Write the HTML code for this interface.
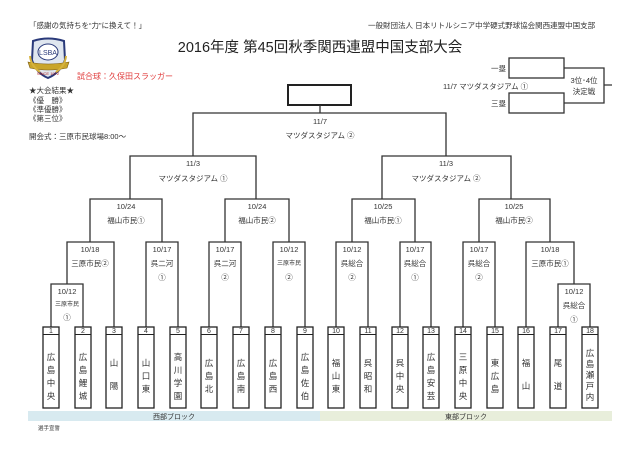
<!DOCTYPE html>
<html><head><meta charset="utf-8"><style>
body{margin:0;background:#fff}
svg{display:block}
text{font-family:"Liberation Sans","Noto Sans CJK JP",sans-serif}
</style></head><body>
<svg width="640" height="452" viewBox="0 0 640 452" xmlns="http://www.w3.org/2000/svg" fill="#333">
<g font-size="7.5">
<text x="29" y="28">「感謝の気持ちを“力”に換えて！」</text>
<text x="368" y="28">一般財団法人 日本リトルシニア中学硬式野球協会関西連盟中国支部</text>
</g>
<text x="320" y="52" font-size="14.5" text-anchor="middle" fill="#222">2016年度  第45回秋季関西連盟中国支部大会</text>
<!-- logo -->
<g>
<path d="M33 41 Q48 36 64 41 L65 60 Q60 73 48 78 Q36 73 32 60 Z" fill="#dfe6ef" stroke="#2a3a7a" stroke-width="2"/>
<ellipse cx="48" cy="52" rx="10" ry="8" fill="#fff" stroke="#2a3a7a"/>
<text x="48" y="55" font-size="7" text-anchor="middle" fill="#2a3a7a">LSBA</text>
<path d="M28 62 Q48 66 69 62 L67 68 Q48 72 30 68 Z" fill="#c9a52a" stroke="#7a5a10" stroke-width=".6"/>
<path d="M30 56 Q31 66 40 72 M66 56 Q65 66 56 72" stroke="#d6b23c" stroke-width="2" fill="none"/>
<text x="48" y="75" font-size="4" text-anchor="middle" fill="#b02020">SINCE 1972</text>
</g>
<text x="77" y="79" font-size="8" fill="#e03c3c">試合球：久保田スラッガー</text>
<g font-size="7.5">
<text x="29" y="93">★大会結果★</text>
<text x="29" y="103">《優　勝》</text>
<text x="29" y="112">《準優勝》</text>
<text x="29" y="121">《第三位》</text>
<text x="29" y="139">開会式：三原市民球場8:00～</text>
</g>
<!-- final box -->
<rect x="288" y="85" width="63" height="20" fill="#fff" stroke="#222" stroke-width="2"/>
<!-- third place -->
<g stroke="#333" stroke-width="1.3" fill="none">
<rect x="509" y="58" width="55" height="20"/>
<rect x="509" y="93" width="55" height="20"/>
<path d="M564 68 H604 V103 H564 M604 85 H612"/>
</g>
<g font-size="7.5">
<text x="506" y="71" text-anchor="end">一塁</text>
<text x="506" y="106" text-anchor="end">三塁</text>
<text x="443" y="89">11/7  マツダスタジアム  ①</text>
<text x="584" y="83" text-anchor="middle">3位･4位</text>
<text x="584" y="94" text-anchor="middle">決定戦</text>
</g>
<!-- bracket lines -->
<g stroke="#333" stroke-width="1.3" fill="none">
<path d="M320 105 V113 M193 156 V113 H446 V156"/>
<path d="M130 199 V156 H256 V199 M382 199 V156 H511 V199"/>
<path d="M90 242 V199 H162 V242 M225 242 V199 H289 V242 M352 242 V199 H415 V242 M479 242 V199 H550 V242"/>
<path d="M67 284 V242 H114 V327 M146 327 V242 H178 V327 M209 327 V242 H241 V327 M273 327 V242 H305 V327"/>
<path d="M51 327 V284 H83 V327"/>
<path d="M336 327 V242 H368 V327 M400 327 V242 H431 V327 M463 327 V242 H495 V327 M526 327 V242 H574 V284"/>
<path d="M558 327 V284 H590 V327"/>
</g>
<g font-size="7.5" text-anchor="middle">
<text x="320" y="124">11/7</text><text x="320" y="138">マツダスタジアム  ②</text>
<text x="193" y="166">11/3</text><text x="193" y="181">マツダスタジアム  ①</text>
<text x="446" y="166">11/3</text><text x="446" y="181">マツダスタジアム  ②</text>
<text x="126" y="209">10/24</text><text x="126" y="223">福山市民①</text>
<text x="257" y="209">10/24</text><text x="257" y="223">福山市民②</text>
<text x="383" y="209">10/25</text><text x="383" y="223">福山市民①</text>
<text x="514" y="209">10/25</text><text x="514" y="223">福山市民②</text>
<text x="90" y="252">10/18</text><text x="90" y="266">三原市民②</text>
<text x="162" y="252">10/17</text><text x="162" y="266">呉二河</text><text x="162" y="280">①</text>
<text x="225" y="252">10/17</text><text x="225" y="266">呉二河</text><text x="225" y="280">②</text>
<text x="289" y="252">10/12</text><text x="289" y="265" font-size="6">三原市民</text><text x="289" y="280">②</text>
<text x="67" y="294">10/12</text><text x="67" y="306" font-size="6">三原市民</text><text x="67" y="320">①</text>
<text x="352" y="252">10/12</text><text x="352" y="266">呉総合</text><text x="352" y="280">②</text>
<text x="415" y="252">10/17</text><text x="415" y="266">呉総合</text><text x="415" y="280">①</text>
<text x="479" y="252">10/17</text><text x="479" y="266">呉総合</text><text x="479" y="280">②</text>
<text x="550" y="252">10/18</text><text x="550" y="266">三原市民①</text>
<text x="574" y="294">10/12</text><text x="574" y="308">呉総合</text><text x="574" y="322">①</text>
</g>
<!-- team boxes -->
<g stroke="#222" stroke-width="1.3" fill="#fff">
<rect x="43" y="327" width="16" height="81"/><rect x="75" y="327" width="16" height="81"/><rect x="106" y="327" width="16" height="81"/>
<rect x="138" y="327" width="16" height="81"/><rect x="170" y="327" width="16" height="81"/><rect x="201" y="327" width="16" height="81"/>
<rect x="233" y="327" width="16" height="81"/><rect x="265" y="327" width="16" height="81"/><rect x="297" y="327" width="16" height="81"/>
<rect x="328" y="327" width="16" height="81"/><rect x="360" y="327" width="16" height="81"/><rect x="392" y="327" width="16" height="81"/>
<rect x="423" y="327" width="16" height="81"/><rect x="455" y="327" width="16" height="81"/><rect x="487" y="327" width="16" height="81"/>
<rect x="518" y="327" width="16" height="81"/><rect x="550" y="327" width="16" height="81"/><rect x="582" y="327" width="16" height="81"/>
</g>
<g stroke="#222" stroke-width="1">
<path d="M43 334.5H59M75 334.5H91M106 334.5H122M138 334.5H154M170 334.5H186M201 334.5H217M233 334.5H249M265 334.5H281M297 334.5H313M328 334.5H344M360 334.5H376M392 334.5H408M423 334.5H439M455 334.5H471M487 334.5H503M518 334.5H534M550 334.5H566M582 334.5H598"/>
</g>
<g font-size="7" text-anchor="middle">
<text x="51" y="333">1</text><text x="83" y="333">2</text><text x="114" y="333">3</text><text x="146" y="333">4</text><text x="178" y="333">5</text><text x="209" y="333">6</text><text x="241" y="333">7</text><text x="273" y="333">8</text><text x="305" y="333">9</text>
<text x="336" y="333">10</text><text x="368" y="333">11</text><text x="400" y="333">12</text><text x="431" y="333">13</text><text x="463" y="333">14</text><text x="495" y="333">15</text><text x="526" y="333">16</text><text x="558" y="333">17</text><text x="590" y="333">18</text>
</g>
<g font-size="8.5" text-anchor="middle">
<text x="51" y="360">広</text><text x="51" y="373">島</text><text x="51" y="386">中</text><text x="51" y="399">央</text>
<text x="83" y="360">広</text><text x="83" y="373">島</text><text x="83" y="386">鯉</text><text x="83" y="399">城</text>
<text x="114" y="366">山</text><text x="114" y="389">陽</text>
<text x="146" y="366">山</text><text x="146" y="379">口</text><text x="146" y="392">東</text>
<text x="178" y="360">高</text><text x="178" y="373">川</text><text x="178" y="386">学</text><text x="178" y="399">園</text>
<text x="209" y="366">広</text><text x="209" y="379">島</text><text x="209" y="392">北</text>
<text x="241" y="366">広</text><text x="241" y="379">島</text><text x="241" y="392">南</text>
<text x="273" y="366">広</text><text x="273" y="379">島</text><text x="273" y="392">西</text>
<text x="305" y="360">広</text><text x="305" y="373">島</text><text x="305" y="386">佐</text><text x="305" y="399">伯</text>
<text x="336" y="366">福</text><text x="336" y="379">山</text><text x="336" y="392">東</text>
<text x="368" y="366">呉</text><text x="368" y="379">昭</text><text x="368" y="392">和</text>
<text x="400" y="366">呉</text><text x="400" y="379">中</text><text x="400" y="392">央</text>
<text x="431" y="360">広</text><text x="431" y="373">島</text><text x="431" y="386">安</text><text x="431" y="399">芸</text>
<text x="463" y="360">三</text><text x="463" y="373">原</text><text x="463" y="386">中</text><text x="463" y="399">央</text>
<text x="495" y="366">東</text><text x="495" y="379">広</text><text x="495" y="392">島</text>
<text x="526" y="366">福</text><text x="526" y="389">山</text>
<text x="558" y="366">尾</text><text x="558" y="389">道</text>
<text x="590" y="356">広</text><text x="590" y="367">島</text><text x="590" y="378">瀬</text><text x="590" y="389">戸</text><text x="590" y="400">内</text>
</g>
<rect x="28" y="411" width="292" height="10" fill="#d8eaf0"/>
<rect x="320" y="411" width="292" height="10" fill="#e8eedb"/>
<g font-size="7" text-anchor="middle">
<text x="174" y="419">西部ブロック</text>
<text x="466" y="419">東部ブロック</text>
</g>
<text x="38" y="430" font-size="5.5">選手宣誓</text>
</svg>
</body></html>
